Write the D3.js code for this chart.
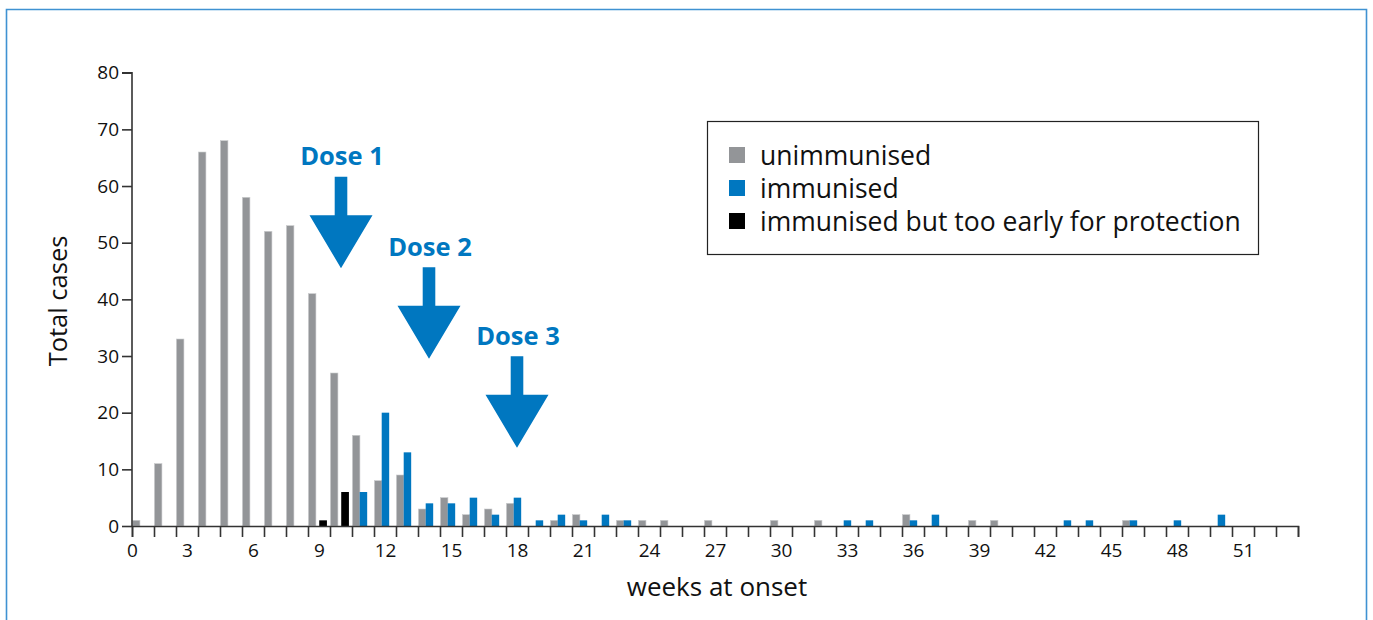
<!DOCTYPE html>
<html>
<head>
<meta charset="utf-8">
<script src="https://cdn.jsdelivr.net/npm/d3@7"></script>
<style>
  body { margin: 0; background: #fff; }
  svg { display: block; font-family: "Open Sans", "Noto Sans", sans-serif; }
</style>
</head>
<body>
<script>
// weeks at onset, one bin per week (1..53)
var weeks = d3.range(1, 54);
// cases per week
var unimmunised = [1, 11, 33, 66, 68, 58, 52, 53, 41, 27, 16, 8, 9, 3, 5, 2, 3, 4, 0, 1,
                   2, 0, 1, 1, 1, 0, 1, 0, 0, 1, 0, 1, 0, 0, 0, 2, 0, 0, 1, 1,
                   0, 0, 0, 0, 0, 1, 0, 0, 0, 0, 0, 0, 0];
var immunised =   [0, 0, 0, 0, 0, 0, 0, 0, 0, 0, 6, 20, 13, 4, 4, 5, 2, 5, 1, 2,
                   1, 2, 1, 0, 0, 0, 0, 0, 0, 0, 0, 0, 1, 1, 0, 1, 2, 0, 0, 0,
                   0, 0, 1, 1, 0, 1, 0, 1, 0, 2, 0, 0, 0];
var tooEarly =    [0, 0, 0, 0, 0, 0, 0, 0, 1, 6, 0, 0, 0, 0, 0, 0, 0, 0, 0, 0,
                   0, 0, 0, 0, 0, 0, 0, 0, 0, 0, 0, 0, 0, 0, 0, 0, 0, 0, 0, 0,
                   0, 0, 0, 0, 0, 0, 0, 0, 0, 0, 0, 0, 0];
var xTickLabels = [0, 3, 6, 9, 12, 15, 18, 21, 24, 27, 30, 33, 36, 39, 42, 45, 48, 51];
var yTicks = [0, 10, 20, 30, 40, 50, 60, 70, 80];
var legendLabels = ["unimmunised", "immunised", "immunised but too early for protection"];
var doseLabels = ["Dose 1", "Dose 2", "Dose 3"];
var doseWeeks = [10, 14, 18];

var grey = "#939598", blue = "#0077c0", black = "#000";
var W = 1373, H = 620;

var svg = d3.select("body").append("svg").attr("width", W).attr("height", H);

// outer frame (bottom edge is off the picture)
svg.append("path")
  .attr("d", "M6.5,640 V9.5 H1366.5 V640")
  .attr("fill", "none").attr("stroke", "#3f92d2").attr("stroke-width", 1.6);

var x = d3.scaleLinear().domain([0.5, 53.5]).range([132, 1298]);
var y = d3.scaleLinear().domain([0, 80]).range([526, 72.7]);
var bw = x(1) - x(0);

var g = svg.append("g");

// bars: three series side by side inside each week bin
var series = [
  {vals: unimmunised, col: grey, off: 0.02, w: 0.34},
  {vals: immunised, col: blue, off: 0.35, w: 0.34},
  {vals: tooEarly, col: black, off: 0.51, w: 0.35}
];
series.forEach(function(s) {
  g.selectAll(null).data(weeks.filter(function(w, i) { return s.vals[i] > 0; }))
    .enter().append("rect")
    .attr("x", function(w) { return x(w - 0.5) + s.off * bw; })
    .attr("width", s.w * bw)
    .attr("y", function(w) { return y(s.vals[w - 1]); })
    .attr("height", function(w) { return y(0) - y(s.vals[w - 1]); })
    .attr("fill", s.col)
    .attr("stroke", s.col === grey ? "#c9cacc" : "none")
    .attr("stroke-width", 0.6);
});

// axes
var yAxis = g.append("g").attr("transform", "translate(132,0)")
  .call(d3.axisLeft(y).tickValues(yTicks).tickSize(10).tickPadding(3));
var xEdges = d3.range(0.5, 54, 1);
var xAxis = g.append("g").attr("transform", "translate(0,526)")
  .call(d3.axisBottom(x).tickValues(xEdges).tickSize(11).tickFormat(""));
var xLab = g.append("g").attr("transform", "translate(0,526)")
  .call(d3.axisBottom(x)
    .tickValues(xTickLabels.map(function(v) { return Math.max(v, 0.5); }))
    .tickSize(0).tickPadding(18)
    .tickFormat(function(v) { return v < 1 ? "0" : v; }));
xLab.select(".domain").remove();
[yAxis, xAxis, xLab].forEach(function(a) {
  a.selectAll("path,line").attr("stroke", "#333").attr("stroke-width", 1.6);
  a.selectAll("text").attr("fill", "#111").style("font-size", "19px")
    .style("font-family", "'Open Sans', sans-serif");
});
yAxis.select(".domain").attr("d", "M-10,72.7H0V526");

// axis titles
svg.append("text").attr("x", 717).attr("y", 596).attr("text-anchor", "middle")
  .style("font-size", "26px").attr("fill", "#111").text("weeks at onset");
svg.append("text").attr("transform", "translate(67,301) rotate(-90)")
  .attr("text-anchor", "middle").style("font-size", "25.5px").attr("fill", "#111")
  .text("Total cases");

// dose arrows
var tipLevels = [45.5, 29.5, 13.8];
doseWeeks.forEach(function(wk, i) {
  var cx = x(wk), ty = y(tipLevels[i]);
  svg.append("path")
    .attr("d", "M" + (cx - 6.3) + "," + (ty - 91.5) + "H" + (cx + 6.3) + "V" + (ty - 53) +
      "H" + (cx + 31.5) + "L" + cx + "," + ty + "L" + (cx - 31.5) + "," + (ty - 53) +
      "H" + (cx - 6.3) + "Z")
    .attr("fill", blue);
  svg.append("text").attr("x", cx + 1).attr("y", ty - 103)
    .attr("text-anchor", "middle").attr("fill", blue)
    .style("font-size", "25.5px").style("font-weight", "bold")
    .text(doseLabels[i]);
});

// legend
var lg = svg.append("g");
lg.append("rect").attr("x", 707.5).attr("y", 121.5).attr("width", 551).attr("height", 133)
  .attr("fill", "#fff").attr("stroke", "#222").attr("stroke-width", 1.2);
[grey, blue, black].forEach(function(c, i) {
  lg.append("rect").attr("x", 729).attr("y", 147 + i * 33).attr("width", 16).attr("height", 16)
    .attr("fill", c);
  lg.append("text").attr("x", 760).attr("y", 164.5 + i * 33)
    .style("font-size", "26.5px").attr("fill", "#111").text(legendLabels[i]);
});
</script>
</body>
</html>
